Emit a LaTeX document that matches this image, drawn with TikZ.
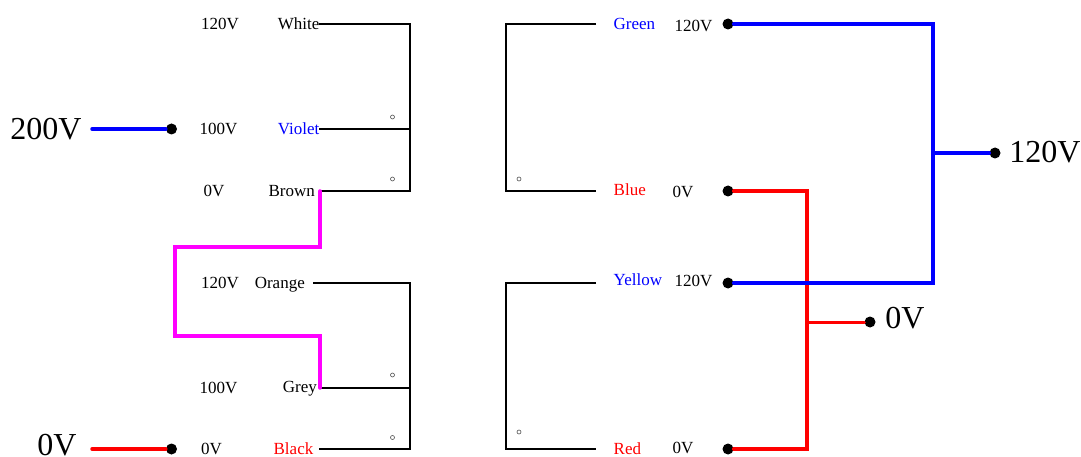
\documentclass[tikz,border=0pt]{standalone}
\usepackage{fontspec}
\setmainfont{Liberation Serif}
\definecolor{pureblue}{RGB}{0,0,255}
\definecolor{purered}{RGB}{255,0,0}
\definecolor{puremag}{RGB}{255,0,255}
\tikzset{
  lab/.style={inner sep=0pt,font=\fontsize{17}{19}\selectfont},
  biglab/.style={inner sep=0pt,font=\fontsize{32}{36}\selectfont},
  term/.style={circle,fill=black,inner sep=0pt,minimum size=11pt},
  pol/.style={circle,draw=black!70,line width=0.6pt,fill=white,inner sep=0pt,minimum size=4pt},
  coil/.style={draw=black,line width=1.7pt,line join=miter},
  wb/.style={draw=pureblue,line width=3.5pt,line cap=round,line join=miter},
  wr/.style={draw=purered,line width=3.5pt,line cap=round,line join=miter},
  wm/.style={draw=puremag,line width=3.5pt,line cap=round,line join=miter}
}
\begin{document}
\begin{tikzpicture}[x=1pt,y=-1pt]
\useasboundingbox (0,0) rectangle (1081,457);
% coordinates
\coordinate (pw) at (319,24);
\coordinate (pwc) at (410,24);
\coordinate (pv) at (319,129);
\coordinate (pvc) at (410,129);
\coordinate (pbr) at (319,191);
\coordinate (pbrc) at (410,191);
\coordinate (po) at (313,283);
\coordinate (poc) at (410,283);
\coordinate (pg) at (319,388);
\coordinate (pgc) at (410,388);
\coordinate (pk) at (319,449);
\coordinate (pkc) at (410,449);
\coordinate (m0) at (320,191);
\coordinate (m1) at (320,247);
\coordinate (m2) at (175,247);
\coordinate (m3) at (175,336);
\coordinate (m4) at (320,336);
\coordinate (m5) at (320,388);
\coordinate (sg) at (596,24);
\coordinate (sgc) at (506,24);
\coordinate (sb) at (596,191);
\coordinate (sbc) at (506,191);
\coordinate (sy) at (596,283);
\coordinate (syc) at (506,283);
\coordinate (sr) at (596,449);
\coordinate (src) at (506,449);
\coordinate (bt) at (933,24);
\coordinate (bb) at (933,283);
\coordinate (bm) at (933,153);
\coordinate (rt) at (807,191);
\coordinate (rb) at (807,449);
\coordinate (rm) at (807,322);
\coordinate (l2) at (92,129);
\coordinate (l0) at (92,449);
% terminals
\node[term] (t200) at (171.5,129) {};
\node[term] (t0) at (171.5,449) {};
\node[term] (tg) at (728,24) {};
\node[term] (tb) at (728,191) {};
\node[term] (ty) at (728,283) {};
\node[term] (tr) at (728,449) {};
\node[term] (t120) at (995,153) {};
\node[term] (t0r) at (870,322) {};
% primary and secondary windings
\draw[coil] (pw) -- (pwc) -- (pbrc) -- (pbr);
\draw[coil] (pv) -- (pvc);
\draw[coil] (po) -- (poc) -- (pkc) -- (pk);
\draw[coil] (pg) -- (pgc);
\draw[coil] (sg) -- (sgc) -- (sbc) -- (sb);
\draw[coil] (sy) -- (syc) -- (src) -- (sr);
% polarity dots
\node[pol] (d1) at (392.5,117) {};
\node[pol] (d2) at (392.5,179) {};
\node[pol] (d3) at (392.5,375) {};
\node[pol] (d4) at (392.5,437.5) {};
\node[pol] (d5) at (519,179) {};
\node[pol] (d6) at (519,432) {};
% wires
\draw[wm] (m0) -- (m1) -- (m2) -- (m3) -- (m4) -- (m5);
\draw[wb] (l2) -- (t200);
\draw[wr] (l0) -- (t0);
\draw[wr] (tb) -- (rt) -- (rb) -- (tr);
\draw[wr,line width=3pt] (rm) -- (t0r);
\draw[wb] (tg) -- (bt) -- (bb) -- (ty);
\draw[wb] (bm) -- (t120);
% labels
\node[lab,anchor=center] (a1) at (220,24) {120V};
\node[lab,anchor=center] (a2) at (218.5,128.5) {100V};
\node[lab,anchor=center] (a3) at (214,190.5) {0V};
\node[lab,anchor=center] (a4) at (220,282.5) {120V};
\node[lab,anchor=center] (a5) at (218.5,387.5) {100V};
\node[lab,anchor=center] (a6) at (211.5,448.5) {0V};
\node[lab,anchor=base east] (n1) at (319.5,30) {White};
\node[lab,anchor=base east,text=pureblue] (n2) at (319.5,135) {Violet};
\node[lab,anchor=base east] (n3) at (315,196.5) {Brown};
\node[lab,anchor=base east] (n4) at (305,288.5) {Orange};
\node[lab,anchor=base east] (n5) at (317,392.5) {Grey};
\node[lab,anchor=base east,text=purered] (n6) at (313.5,454.5) {Black};
\node[lab,anchor=base west,text=pureblue] (s1) at (613.5,30) {Green};
\node[lab,anchor=base west,text=purered] (s2) at (613.5,196) {Blue};
\node[lab,anchor=base west,text=pureblue] (s3) at (613.5,285) {Yellow};
\node[lab,anchor=base west,text=purered] (s4) at (613.5,454) {Red};
\node[lab,anchor=center] (b1) at (693.5,26) {120V};
\node[lab,anchor=center] (b2) at (683,192) {0V};
\node[lab,anchor=center] (b3) at (693.5,281) {120V};
\node[lab,anchor=center] (b4) at (683,448) {0V};
\node[biglab,anchor=center] (v200) at (46,129.5) {200V};
\node[biglab,anchor=center] (v0) at (57,445.5) {0V};
\node[biglab,anchor=center] (v120) at (1045,152) {120V};
\node[biglab,anchor=center] (v0r) at (905,318) {0V};
\end{tikzpicture}
\end{document}
